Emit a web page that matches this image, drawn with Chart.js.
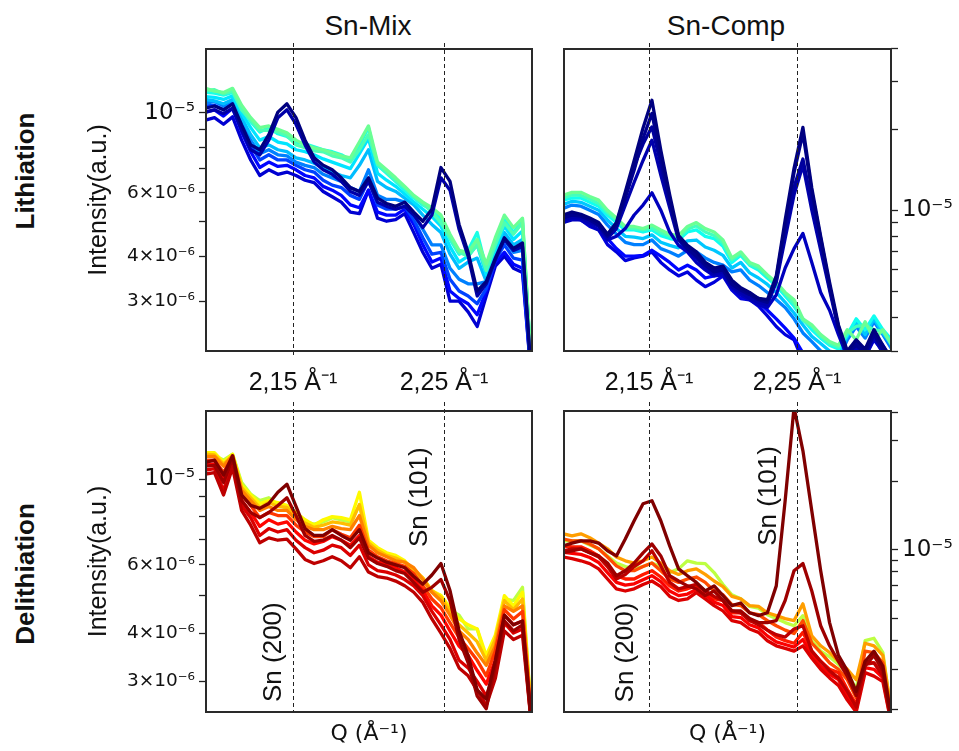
<!DOCTYPE html>
<html><head><meta charset="utf-8">
<script src="https://cdn.jsdelivr.net/npm/chart.js@4.4.0/dist/chart.umd.min.js"></script>
<style>
html,body{margin:0;padding:0;background:#fff;overflow:hidden;width:959px;height:751px;}
canvas{position:absolute;}
.lbl{position:absolute;font-family:"Liberation Sans",Arial,sans-serif;color:#111;white-space:nowrap;line-height:1;transform:translate(-50%,-50%);}
.rot{transform:translate(-50%,-50%) rotate(-90deg);font-weight:bold;font-size:26px;}
</style></head><body>
<div class="lbl" style="left:368px;top:26px;font-size:28px">Sn-Mix</div>
<div class="lbl" style="left:726px;top:26px;font-size:28px">Sn-Comp</div>
<div class="lbl rot" style="left:25px;top:171px">Lithiation</div>
<div class="lbl rot" style="left:25px;top:574px">Delithiation</div>
<canvas id="tl" width="465" height="370" style="left:80px;top:30px"></canvas>
<canvas id="tr" width="399" height="370" style="left:560px;top:30px"></canvas>
<canvas id="bl" width="465" height="359" style="left:80px;top:392px"></canvas>
<canvas id="br" width="399" height="359" style="left:560px;top:392px"></canvas>
<script>
// ---------- data ----------
const UNIT = 1e-6; // intensities below are in units of 1e-6 a.u.
const Q = [2.092,2.098,2.104,2.110,2.116,2.122,2.128,2.134,2.140,2.146,2.152,2.158,2.164,2.170,2.176,2.182,2.188,2.194,2.200,2.206,2.212,2.218,2.224,2.230,2.236,2.242,2.248,2.254,2.260,2.266,2.272,2.278,2.284,2.290,2.296,2.302,2.308,2.314];

const refQ = [2.15, 2.25];
const xTickLabels = ['2,15 Å⁻¹', '2,25 Å⁻¹'];

const yTicksMix = [3e-6,4e-6,5e-6,6e-6,7e-6,8e-6,9e-6,1e-5];
const yLabelsMix = ['3×10⁻⁶','4×10⁻⁶','','6×10⁻⁶','','','','10⁻⁵'];
const yTicksCompLi = [3e-6,4e-6,5e-6,6e-6,7e-6,8e-6,9e-6,1e-5,2e-5,3e-5,4e-5];
const yLabelsCompLi = ['','','','','','','','10⁻⁵','','',''];
const yTicksCompDe = [2e-6,3e-6,4e-6,5e-6,6e-6,7e-6,8e-6,9e-6,1e-5,2e-5,3e-5,4e-5];
const yLabelsCompDe = ['','','','','','','','','10⁻⁵','','',''];

const noteText = ['Sn (200)', 'Sn (101)'];
const noteQMix = [2.137, 2.2337];
const noteVMix = [3.57e-6, 8.98e-6];
const noteQComp = [2.1345, 2.2311];
const noteVComp = [3.55e-6, 17.2e-6];

// Sn-Mix, lithiation
const mixLi_n0  = [10.3,10.45,10.2,10.6,9.25,8.15,7.9,8.7,10.05,10.6,9.7,8.4,7.5,7.15,6.95,6.6,6.2,6.05,6.6,5.8,5.6,5.5,5.65,5.3,5.0,5.4,7.05,6.45,4.9,4.1,3.2,3.4,3.95,4.5,4.2,4.35,1.8,1.7];
const mixLi_n1  = [10.05,10.2,9.95,10.3,8.95,7.9,7.65,8.4,9.7,10.2,9.3,8.15,7.3,6.95,6.75,6.45,6.05,5.9,6.45,5.65,5.5,5.4,5.5,5.2,4.8,5.2,6.6,6.1,4.75,4.0,3.1,3.35,3.9,4.45,4.15,4.25,1.8,1.7];
const mixLi_g   = [11.7,11.5,11.4,11.7,10.5,9.7,9.1,9.2,9.0,8.8,8.4,8.15,8.0,7.9,7.75,7.6,7.5,8.3,9.2,7.3,6.95,6.6,6.25,5.9,5.65,5.45,5.2,4.6,4.15,4.1,4.45,3.8,4.5,5.2,4.8,5.1,1.9,1.7];
const mixLi_gc  = [11.55,11.6,11.3,11.5,10.2,9.55,8.95,8.95,8.85,8.65,8.15,8.0,7.85,7.8,7.6,7.5,7.3,7.9,8.7,7.2,6.85,6.5,6.2,5.85,5.6,5.3,4.95,4.5,4.1,4.0,4.3,3.65,4.3,4.95,4.6,4.95,1.9,1.7];
const mixLi_c   = [11.4,11.35,11.2,11.4,10.3,9.45,8.85,9.1,8.75,8.6,8.3,8.2,8.05,7.9,7.8,7.65,7.4,8.15,9.1,7.15,6.8,6.45,6.1,5.8,5.55,5.4,5.05,4.45,4.05,4.15,4.65,3.7,4.4,5.1,4.65,5.05,1.9,1.7];
const mixLi_cb  = [11.1,11.05,10.9,11.15,10.0,9.1,8.4,8.6,8.3,8.2,7.9,7.8,7.65,7.45,7.3,7.15,7.0,7.7,8.5,6.8,6.5,6.25,5.95,5.65,5.4,5.15,4.85,4.25,3.85,4.0,4.3,3.55,4.15,4.85,4.45,4.7,1.85,1.7];
const mixLi_m   = [10.9,10.8,10.6,10.9,9.7,8.7,8.0,8.15,7.9,7.8,7.5,7.4,7.25,7.05,6.85,6.7,6.6,7.15,7.9,6.45,6.2,6.05,5.8,5.55,5.2,4.9,4.65,4.05,3.7,3.85,3.95,3.4,3.95,4.65,4.3,4.45,1.85,1.7];
const mixLi_az  = [10.65,10.75,10.45,10.85,9.55,8.4,7.7,7.9,7.65,7.6,7.3,7.15,7.05,6.75,6.6,6.45,6.2,6.05,6.95,5.9,5.75,5.75,5.65,5.2,4.75,4.3,4.3,3.7,3.45,3.35,3.35,3.4,3.95,4.45,4.1,4.15,1.85,1.7];
const mixLi_mb  = [10.45,10.5,10.2,10.65,9.25,8.15,7.4,7.65,7.4,7.4,7.15,6.95,6.85,6.5,6.3,6.2,5.9,5.75,6.5,5.55,5.4,5.4,5.5,5.05,4.5,4.05,4.1,3.45,3.2,3.1,2.95,3.25,3.9,4.3,3.95,3.9,1.8,1.7];
const mixLi_b   = [10.05,10.2,9.8,10.3,8.85,7.8,7.05,7.3,7.1,7.15,6.95,6.7,6.6,6.25,6.1,5.9,5.55,5.45,6.1,5.3,5.2,5.2,5.4,4.9,4.3,3.85,3.95,3.2,3.05,2.95,2.75,3.2,3.85,4.1,3.8,3.7,1.8,1.7];
const mixLi_bl  = [9.55,9.7,9.3,9.75,8.4,7.4,6.7,6.95,6.75,6.85,6.7,6.5,6.4,6.05,5.85,5.65,5.3,5.25,6.1,5.1,5.0,5.05,5.25,4.65,4.1,3.7,3.8,3.0,3.0,2.8,2.55,3.1,3.75,4.0,3.7,3.6,1.8,1.7];

// Sn-Comp, lithiation
const compLi_n0 = [9.6,9.85,9.65,9.35,9.0,8.15,9.0,11.7,15.3,20.2,25.6,16.7,11.4,8.05,7.4,7.0,6.4,6.1,6.2,5.5,5.15,4.95,4.7,4.65,5.7,9.2,14.3,20.3,12.1,8.0,5.4,3.75,3.0,3.3,3.05,3.6,3.15,2.8];
const compLi_n1 = [9.35,9.6,9.5,9.2,8.8,8.0,8.8,11.1,14.1,18.5,22.9,15.6,10.9,7.85,7.2,6.75,6.25,5.9,6.0,5.3,5.05,4.85,4.65,4.55,5.6,8.8,13.8,19.3,11.7,7.85,5.25,3.65,2.95,3.15,2.95,3.45,3.05,2.75];
const compLi_n4 = [9.5,9.7,9.55,9.25,8.9,8.1,8.9,11.4,14.6,17.6,20.4,14.8,10.6,7.95,7.3,6.85,6.3,6.0,6.1,5.4,5.1,4.9,4.7,4.6,5.5,8.3,12.2,15.5,10.6,7.5,5.15,3.7,2.95,3.2,3.0,3.5,3.1,2.75];
const compLi_n2 = [9.2,9.4,9.35,9.0,8.7,7.85,8.55,10.45,12.7,15.3,18.2,13.5,10.2,7.75,7.1,6.65,6.1,5.8,5.9,5.2,4.95,4.7,4.55,4.45,5.4,7.85,11.4,14.7,10.0,7.1,5.05,3.6,2.9,3.1,2.9,3.4,3.0,2.7];
const compLi_n3 = [9.0,9.2,9.2,8.8,8.45,7.75,8.0,8.55,9.6,10.45,11.6,10.0,8.3,7.4,7.0,6.4,6.0,5.7,5.75,5.15,4.85,4.65,4.45,4.35,4.85,6.1,7.2,8.2,6.4,4.95,4.25,3.45,2.85,3.05,2.85,3.35,2.95,2.65];
const compLi_g  = [11.35,11.65,11.65,11.25,10.9,10.0,9.35,8.7,8.7,8.55,8.8,8.45,8.15,8.05,8.7,9.0,8.55,8.3,7.75,6.65,7.0,6.4,6.2,5.75,5.4,4.95,4.65,3.95,3.75,3.45,3.25,3.15,3.6,3.3,3.85,3.3,3.6,3.15];
const compLi_gc = [11.1,11.4,11.35,11.0,10.6,9.8,9.2,8.6,8.55,8.45,8.6,8.25,8.0,7.9,8.5,8.75,8.3,8.05,7.55,6.55,6.9,6.3,6.1,5.7,5.3,4.9,4.5,3.9,3.7,3.4,3.2,3.1,3.5,3.7,3.75,3.6,3.55,3.2];
const compLi_c  = [10.9,11.1,11.1,10.7,10.35,9.6,9.0,8.45,8.45,8.3,8.45,8.05,7.85,7.75,8.3,8.45,8.0,7.85,7.35,6.4,6.8,6.25,6.0,5.6,5.25,4.8,4.4,3.95,3.6,3.35,3.15,3.05,3.45,3.95,3.6,4.05,3.6,3.3];
const compLi_sb = [10.5,10.8,10.7,10.35,10.0,9.2,8.55,8.0,7.95,7.85,8.1,7.6,7.4,7.25,7.7,7.75,7.3,7.1,6.8,6.1,6.4,5.85,5.6,5.3,4.95,4.55,4.15,3.75,3.4,3.2,3.0,2.95,3.4,3.85,3.45,3.95,3.5,3.15];
const compLi_az = [10.15,10.45,10.35,10.0,9.65,8.8,8.15,7.6,7.45,7.45,7.75,7.2,7.0,6.75,7.1,7.0,6.65,6.4,6.25,5.9,6.0,5.5,5.25,4.95,4.65,4.35,3.95,3.5,3.25,3.0,2.9,2.8,3.3,3.7,3.35,3.85,3.45,3.05];
const compLi_b  = [9.35,9.65,9.5,9.2,8.8,7.85,7.2,6.75,6.75,6.8,7.1,6.75,6.4,6.0,6.25,6.0,5.6,5.7,5.9,5.25,5.05,4.8,4.55,4.25,3.95,3.65,3.35,2.95,2.7,2.55,2.5,2.5,2.9,3.3,2.95,3.45,3.15,2.75];
const compLi_bl = [9.0,9.35,9.2,8.7,8.45,7.45,7.0,6.5,6.65,6.75,7.0,6.4,6.0,5.7,5.9,5.5,5.2,5.4,5.7,5.05,4.7,4.65,4.4,4.05,3.7,3.45,3.3,2.75,2.55,2.45,2.4,2.45,2.75,3.15,2.85,3.3,3.0,2.7];

// Sn-Mix, delithiation
const mixDe_dr0 = [11.05,11.2,10.25,11.5,9.1,8.55,8.4,8.65,9.25,9.7,8.5,7.45,7.15,7.15,7.4,7.15,6.95,7.4,6.45,6.25,6.1,6.0,5.9,5.6,5.35,5.65,6.05,5.15,4.05,3.5,2.85,2.7,3.4,4.45,4.2,4.3,2.35,2.2];
const mixDe_dr1 = [10.8,10.85,9.8,11.3,8.8,8.2,7.95,8.2,8.55,8.95,8.05,7.15,6.9,6.95,7.15,6.95,6.65,7.05,6.25,6.05,5.95,5.8,5.7,5.4,5.1,5.25,5.5,4.85,3.85,3.35,2.75,2.55,3.3,4.3,4.05,4.2,2.3,2.2];
const mixDe_r2  = [10.3,10.4,9.1,10.7,8.3,7.6,6.85,7.05,6.95,7.0,6.6,6.2,6.05,6.15,6.3,6.15,5.9,6.3,5.75,5.6,5.55,5.45,5.3,5.1,4.8,4.35,4.0,3.65,3.25,3.1,2.85,2.6,3.05,4.05,3.85,3.95,2.3,2.2];
const mixDe_rl  = [10.55,10.65,9.35,11.05,8.55,7.95,7.15,7.45,7.3,7.4,6.95,6.65,6.45,6.55,6.75,6.65,6.35,6.75,6.0,5.8,5.75,5.65,5.5,5.3,5.0,4.55,4.2,3.85,3.4,3.25,3.0,2.75,3.2,4.25,4.0,4.1,2.3,2.2];
const mixDe_r   = [10.9,10.95,9.95,11.3,8.8,8.2,7.55,7.85,7.65,7.75,7.3,6.95,6.8,6.9,7.1,6.95,6.75,7.15,6.3,6.1,6.05,5.9,5.75,5.5,5.15,4.7,4.45,4.05,3.7,3.5,3.2,2.95,3.4,4.45,4.2,4.3,2.35,2.2];
const mixDe_ro  = [11.2,11.2,10.4,11.45,9.1,8.55,7.95,8.2,8.05,8.05,7.6,7.3,7.1,7.1,7.4,7.2,7.05,7.6,6.55,6.3,6.15,6.05,5.95,5.7,5.3,4.9,4.65,4.25,3.9,3.65,3.4,3.1,3.6,4.6,4.35,4.55,2.35,2.2];
const mixDe_o   = [11.45,11.45,10.8,11.5,9.35,8.8,8.3,8.5,8.3,8.3,7.85,7.55,7.4,7.4,7.55,7.45,7.4,8.05,6.75,6.45,6.3,6.15,6.1,5.9,5.5,5.1,4.85,4.45,4.05,3.85,3.55,3.3,3.7,4.7,4.55,4.7,2.4,2.25];
const mixDe_o2  = [11.6,11.55,10.95,11.5,9.5,8.95,8.45,8.7,8.5,8.45,8.0,7.7,7.5,7.6,7.75,7.7,7.6,8.6,6.85,6.55,6.35,6.25,6.1,5.85,5.55,5.15,4.95,4.55,4.2,4.0,3.8,3.4,3.85,4.85,4.6,4.9,2.4,2.25];
const mixDe_y   = [11.7,11.7,11.05,11.6,9.65,9.1,8.65,8.8,8.7,8.55,8.2,7.85,7.6,7.85,8.0,7.95,7.85,9.25,6.95,6.65,6.45,6.35,6.15,5.8,5.55,5.15,5.0,4.65,4.35,4.2,4.1,3.5,3.95,5.0,4.7,5.1,2.4,2.25];
const mixDe_yg  = [11.5,11.5,11.2,11.6,9.8,9.15,8.8,8.95,8.6,8.4,8.05,7.75,7.65,7.75,7.95,7.85,7.75,8.55,6.9,6.55,6.4,6.3,6.1,5.75,5.5,5.1,5.0,4.6,4.45,4.1,4.1,3.4,3.85,4.9,4.85,5.25,2.4,2.25];

// Sn-Comp, delithiation
const compDe_dr0 = [10.4,10.7,10.95,10.95,10.7,9.9,9.4,11.15,13.4,15.9,16.4,13.4,10.4,8.25,7.7,7.2,6.6,6.95,6.3,5.7,5.85,5.3,5.15,5.3,6.95,16.4,42,27.1,14.8,8.1,4.8,3.45,2.95,2.4,3.25,3.6,3.1,1.8];
const compDe_dr1 = [9.7,9.9,10.1,9.7,9.4,8.75,7.7,8.1,8.75,9.7,10.6,9.4,7.7,7.3,6.95,6.75,6.3,6.6,6.0,5.4,5.4,5.0,4.8,4.8,4.9,6.0,8.1,8.7,6.6,4.65,3.8,3.25,2.8,2.3,3.1,3.45,2.95,1.7];
const compDe_dr2 = [9.9,10.1,10.1,9.7,9.3,8.45,7.45,7.8,8.45,8.95,9.9,8.5,7.2,6.75,6.9,7.05,6.6,6.25,6.0,5.4,5.3,4.9,4.7,4.45,4.25,4.15,4.5,4.65,3.6,3.25,2.95,2.75,2.4,2.05,3.15,3.2,2.8,1.75];
const compDe_rl  = [9.3,9.15,8.95,8.7,8.25,7.45,6.75,6.6,6.75,7.05,7.3,6.9,6.25,6.0,6.1,6.5,6.1,5.7,5.4,4.9,4.8,4.5,4.35,4.0,3.8,3.7,3.6,3.8,3.35,3.0,2.75,2.55,2.2,1.95,2.9,2.8,2.65,1.7];
const compDe_r   = [10.4,10.3,10.3,9.9,9.4,8.5,7.7,7.45,7.45,7.8,8.1,7.6,6.95,6.6,6.75,6.95,6.6,6.1,6.0,5.3,5.3,4.9,4.8,4.45,4.15,4.0,3.9,4.35,3.6,3.25,3.0,2.9,2.45,2.1,3.25,3.2,2.9,1.75];
const compDe_r2  = [9.75,9.65,9.55,9.25,8.8,7.95,7.2,7.0,7.1,7.4,7.7,7.25,6.6,6.3,6.4,6.7,6.35,5.9,5.7,5.1,5.05,4.7,4.55,4.2,3.95,3.85,3.75,4.05,3.45,3.1,2.85,2.7,2.3,2.0,3.05,3.0,2.75,1.7];
const compDe_ro  = [11.15,10.95,10.95,10.6,10.1,9.3,8.5,8.1,8.1,8.45,8.75,8.1,7.45,7.2,7.45,7.6,7.2,6.6,6.35,5.75,5.7,5.3,5.2,4.9,4.65,4.45,4.3,4.9,3.9,3.55,3.2,3.0,2.7,2.25,3.6,3.55,3.2,1.8];
const compDe_o   = [11.75,11.5,11.75,11.3,10.7,10.1,9.3,8.95,8.75,8.95,9.3,8.75,8.1,7.8,8.1,8.25,7.8,7.3,6.9,6.25,6.1,5.7,5.65,5.3,5.15,5.0,4.9,5.8,4.2,3.8,3.55,3.25,3.0,2.7,3.9,3.8,3.45,1.9];
const compDe_yg  = [10.95,10.95,10.95,10.5,10.1,9.4,8.75,8.45,8.25,8.45,8.75,8.45,7.95,8.25,8.95,8.75,8.7,7.95,7.05,6.35,6.1,5.65,5.55,5.2,5.0,4.8,4.65,5.15,4.0,3.6,3.4,3.15,2.9,2.45,4.0,4.1,3.55,1.85];

// ---------- styling helpers ----------
function jet(t){
  const c = v => Math.round(255*Math.max(0, Math.min(1, v)));
  return `rgb(${c(1.5-Math.abs(4*t-3))},${c(1.5-Math.abs(4*t-2))},${c(1.5-Math.abs(4*t-1))})`;
}
const SANS = '"Liberation Sans", Arial, sans-serif';
const DEJA = '"DejaVu Sans", sans-serif';

const panelPlugin = {
  id: 'panel',
  afterDatasetsDraw(chart, args, opts) {
    const {ctx, chartArea: a, scales: {x, y}} = chart;
    ctx.save();
    ctx.strokeStyle = '#222'; ctx.lineWidth = 1; ctx.setLineDash([4, 3]);
    for (const q of refQ) {
      const px = Math.round(x.getPixelForValue(q)) + 0.5;
      ctx.beginPath(); ctx.moveTo(px, a.top - opts.ext[0]); ctx.lineTo(px, a.bottom + opts.ext[1]); ctx.stroke();
    }
    ctx.setLineDash([]);
    ctx.lineWidth = 2; ctx.strokeStyle = '#2a2a2a';
    ctx.strokeRect(a.left, a.top, a.right - a.left, a.bottom - a.top);
    if (opts.noteQ) {
      ctx.fillStyle = '#111'; ctx.font = '26px ' + SANS;
      ctx.textAlign = 'center'; ctx.textBaseline = 'middle';
      opts.noteQ.forEach((q, i) => {
        ctx.save();
        ctx.translate(x.getPixelForValue(q), y.getPixelForValue(opts.noteV[i]));
        ctx.rotate(-Math.PI / 2);
        ctx.fillText(noteText[i], 0, 0);
        ctx.restore();
      });
    }
    ctx.restore();
  }
};

function makeChart(id, p) {
  const datasets = p.series.map(s => ({
    data: Q.map((q, i) => ({x: q, y: s[0][i] * UNIT})),
    borderColor: jet(s[1]), borderWidth: 3.3, pointRadius: 0, tension: 0, fill: false, clip: 0,
    borderJoinStyle: 'round'
  }));
  new Chart(document.getElementById(id), {
    type: 'line',
    data: {datasets},
    plugins: [panelPlugin],
    options: {
      responsive: false, animation: false, events: [],
      layout: {padding: p.pad},
      plugins: {legend: {display: false}, tooltip: {enabled: false}, panel: {ext: p.ext, noteQ: p.noteQ, noteV: p.noteV}},
      scales: {
        x: {
          type: 'linear', position: 'bottom', min: p.xmin, max: p.xmax,
          grid: {display: false}, border: {display: false},
          afterBuildTicks: s => { s.ticks = refQ.map(v => ({value: v})); },
          ticks: {display: p.xLabels, autoSkip: false, maxRotation: 0, padding: 9, color: '#111',
                  font: {family: SANS, size: 25}, callback: (v, i) => xTickLabels[i]},
          title: {display: !p.xLabels, text: 'Q (Å⁻¹)', color: '#111', font: {family: DEJA, size: 22},
                  padding: {top: 0, bottom: 4}},
          afterFit: s => { s.height = p.xh; }
        },
        y: {
          type: 'logarithmic', position: p.ypos, min: p.ymin, max: p.ymax,
          grid: {display: true, drawOnChartArea: false, drawTicks: true, tickLength: 7, tickColor: '#222', tickWidth: 1.3},
          border: {display: false},
          afterBuildTicks: s => { s.ticks = p.yt.map(v => ({value: v})); },
          ticks: {autoSkip: false, padding: 4, color: '#111', callback: (v, i) => p.yl[i],
                  font: c => ({family: DEJA, size: (c.tick && Math.abs(c.tick.value - 1e-5) < 1e-9) ? 23 : 18.5})},
          title: {display: p.ypos === 'left', text: 'Intensity(a.u.)', color: '#111',
                  font: {family: SANS, size: 25}, padding: {top: 4, bottom: 4}},
          afterFit: s => { s.width = p.yw; }
        }
      }
    }
  });
}

makeChart('tl', {
  series: [[mixLi_n0,0.0],[mixLi_n1,0.04],[mixLi_g,0.48],[mixLi_gc,0.45],[mixLi_c,0.4],[mixLi_cb,0.35],[mixLi_m,0.31],[mixLi_az,0.25],[mixLi_mb,0.19],[mixLi_b,0.13],[mixLi_bl,0.08]],
  pad: {left: 0, top: 19, right: 13, bottom: 0}, xh: 49, yw: 126, ypos: 'left',
  xmin: 2.0924, xmax: 2.3083, ymin: 2.18e-6, ymax: 1.505e-5, yt: yTicksMix, yl: yLabelsMix,
  xLabels: true, ext: [6, 7]
});
makeChart('tr', {
  series: [[compLi_n0,0.0],[compLi_n1,0.015],[compLi_n4,0.03],[compLi_n2,0.045],[compLi_n3,0.06],[compLi_g,0.48],[compLi_gc,0.44],[compLi_c,0.39],[compLi_sb,0.32],[compLi_az,0.25],[compLi_b,0.13],[compLi_bl,0.09]],
  pad: {left: 4, top: 19, right: 0, bottom: 0}, xh: 49, yw: 68, ypos: 'right',
  xmin: 2.0926, xmax: 2.3135, ymin: 3.0e-6, ymax: 3.97e-5, yt: yTicksCompLi, yl: yLabelsCompLi,
  xLabels: true, ext: [6, 7]
});
makeChart('bl', {
  series: [[mixDe_dr0,1.0],[mixDe_dr1,0.97],[mixDe_r2,0.94],[mixDe_rl,0.91],[mixDe_r,0.87],[mixDe_ro,0.82],[mixDe_o,0.75],[mixDe_o2,0.69],[mixDe_y,0.63],[mixDe_yg,0.56]],
  pad: {left: 0, top: 19, right: 13, bottom: 0}, xh: 39, yw: 126, ypos: 'left',
  xmin: 2.0924, xmax: 2.3083, ymin: 2.5e-6, ymax: 1.5e-5, yt: yTicksMix, yl: yLabelsMix,
  xLabels: false, ext: [9, 0], noteQ: noteQMix, noteV: noteVMix
});
makeChart('br', {
  series: [[compDe_dr0,1.0],[compDe_dr1,0.97],[compDe_dr2,0.94],[compDe_rl,0.91],[compDe_r2,0.88],[compDe_r,0.85],[compDe_ro,0.8],[compDe_o,0.72],[compDe_yg,0.56]],
  pad: {left: 4, top: 19, right: 0, bottom: 0}, xh: 39, yw: 68, ypos: 'right',
  xmin: 2.0926, xmax: 2.3135, ymin: 1.95e-6, ymax: 4.05e-5, yt: yTicksCompDe, yl: yLabelsCompDe,
  xLabels: false, ext: [9, 0], noteQ: noteQComp, noteV: noteVComp
});
</script>
</body></html>
